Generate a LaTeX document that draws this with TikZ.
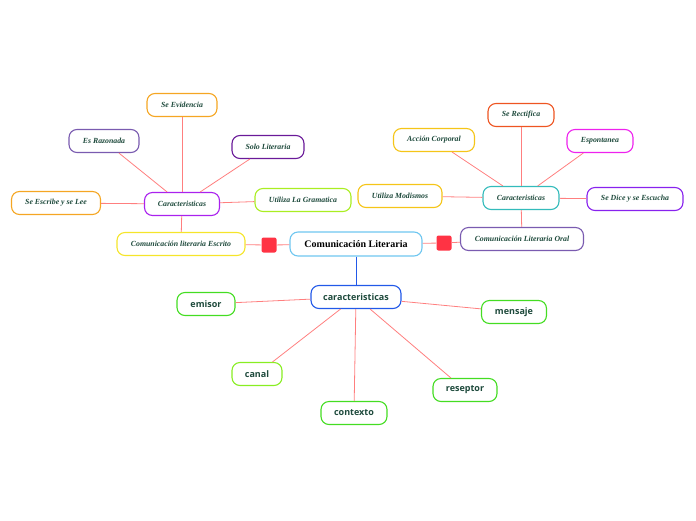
\documentclass[tikz,border=0pt]{standalone}
\usepackage{fontspec}
\setmainfont{Liberation Serif}
\setsansfont{Open Sans}
\usepackage{xcolor}
\usetikzlibrary{positioning}
\definecolor{txtgreen}{HTML}{1E4A3C}
\definecolor{linkred}{HTML}{FF7F7F}
\definecolor{sqred}{HTML}{FF3344}
\definecolor{skyblue}{HTML}{6EC6F0}
\definecolor{royal}{HTML}{2259E8}
\definecolor{cOrange}{HTML}{F5A623}
\definecolor{cGold}{HTML}{F5C518}
\definecolor{cLavender}{HTML}{7A5BB0}
\definecolor{cPlum}{HTML}{6A1A99}
\definecolor{cViolet}{HTML}{AA22EE}
\definecolor{cLime}{HTML}{AAEE22}
\definecolor{cYellow}{HTML}{F5E52A}
\definecolor{cTeal}{HTML}{33BBBB}
\definecolor{cRust}{HTML}{EE5522}
\definecolor{cMagenta}{HTML}{EE22EE}
\definecolor{cPurple}{HTML}{8822EE}
\definecolor{cGreen}{HTML}{44DD22}
\definecolor{cGreenL}{HTML}{88EE22}

\begin{document}
\begin{tikzpicture}[x=1pt, y=-1pt,
    topic/.style={draw=#1, line width=1.1pt, rounded corners=8pt, fill=white,
        text=txtgreen, font=\fontsize{7.8}{9}\selectfont\bfseries\itshape,
        inner sep=0pt, minimum height=23pt},
    leaf/.style={draw=#1, line width=1.1pt, rounded corners=8pt, fill=white,
        text=txtgreen, font=\fontsize{9}{10}\sffamily\bfseries,
        inner sep=0pt, minimum height=23pt},
    knot/.style={fill=sqred, rounded corners=2pt, minimum size=15pt, inner sep=0pt},
    link/.style={draw=linkred, line width=0.8pt}
]
\useasboundingbox (0,0) rectangle (696,520);

\node[draw=skyblue, line width=1.1pt, rounded corners=8pt, text=black,
    font=\fontsize{10}{12}\selectfont\bfseries, inner sep=0pt,
    minimum width=132pt, minimum height=24pt] (main) at (356,244) {Comunicación Literaria};
\node[knot] (knotL) at (269,245) {};
\node[knot] (knotR) at (444,243) {};

\node[topic=cYellow, minimum width=128pt] (escrito) at (181,244) {Comunicación literaria Escrito};
\node[topic=cViolet, minimum width=75pt] (caracL) at (182,204) {Caracteristicas};
\node[topic=cOrange, minimum width=70pt] (evidencia) at (182,105) {Se Evidencia};
\node[topic=cLavender, minimum width=70pt] (razonada) at (104,141) {Es Razonada};
\node[topic=cPlum, minimum width=72pt] (solo) at (268,147) {Solo Literaria};
\node[topic=cOrange, minimum width=89pt] (escribe) at (56,203) {Se Escribe y se Lee};
\node[topic=cLime, minimum width=96pt] (gramatica) at (303,200) {Utiliza La Gramatica};

\node[topic=cLavender, minimum width=123pt] (oral) at (522,239) {Comunicación Literaria Oral};
\node[topic=cTeal, minimum width=76pt] (caracR) at (521,198) {Caracteristicas};
\node[topic=cRust, minimum width=66pt] (rectifica) at (521,115) {Se Rectifica};
\node[topic=cGold, minimum width=81pt] (corporal) at (434,140) {Acción Corporal};
\node[topic=cMagenta, minimum width=66pt] (espontanea) at (600,141) {Espontanea};
\node[topic=cGold, minimum width=84pt] (modismos) at (400,196) {Utiliza Modismos};
\node[topic=cPurple, minimum width=96pt] (escucha) at (635,199) {Se Dice y se Escucha};

\node[leaf=royal, minimum width=90pt] (caracB) at (356,297) {caracteristicas};
\node[leaf=cGreen, minimum width=58pt] (emisor) at (206,304) {emisor};
\node[leaf=cGreen, minimum width=65pt] (mensaje) at (514,312) {mensaje};
\node[leaf=cGreenL, minimum width=50pt] (canal) at (257,374) {canal};
\node[leaf=cGreen, minimum width=64pt] (reseptor) at (465,390) {reseptor};
\node[leaf=cGreen, minimum width=66pt] (contexto) at (354,413) {contexto};

\draw[link] (escrito) -- (knotL) -- (main) -- (knotR) -- (oral);
\draw[draw=royal, line width=1pt] (main) -- (caracB);

\draw[link] (escrito) -- (caracL);
\foreach \leafnode in {evidencia, razonada, solo, escribe, gramatica}
    \draw[link] (caracL) -- (\leafnode);

\draw[link] (oral) -- (caracR);
\foreach \leafnode in {rectifica, corporal, espontanea, modismos, escucha}
    \draw[link] (caracR) -- (\leafnode);

\foreach \leafnode in {emisor, mensaje, canal, reseptor, contexto}
    \draw[link] (caracB) -- (\leafnode);
\end{tikzpicture}
\end{document}
